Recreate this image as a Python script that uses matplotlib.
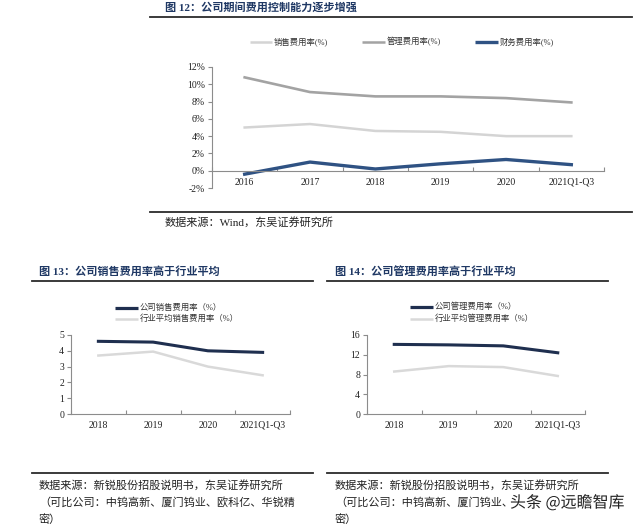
import matplotlib
matplotlib.use('Agg')
import matplotlib.pyplot as plt
from matplotlib.lines import Line2D
from matplotlib.ticker import FuncFormatter, FixedLocator
import matplotlib.patheffects as pe

plt.rcParams['font.family'] = ['Liberation Serif', 'Noto Sans CJK SC', 'DejaVu Sans']
CJK = ['Noto Sans CJK SC', 'DejaVu Sans']
MIX = ['Liberation Serif', 'Noto Sans CJK SC', 'DejaVu Sans']

# ---------------- data ----------------
years1 = ['2016', '2017', '2018', '2019', '2020', '2021Q1-Q3']
sales_rate1 = [5.0, 5.4, 4.6, 4.5, 4.0, 4.0]
admin_rate1 = [10.8, 9.1, 8.6, 8.6, 8.4, 7.9]
fin_rate1 = [-0.4, 1.0, 0.2, 0.8, 1.3, 0.7]
yticks1 = [-2, 0, 2, 4, 6, 8, 10, 12]

years2 = ['2018', '2019', '2020', '2021Q1-Q3']
co_sales = [4.6, 4.55, 4.0, 3.9]
ind_sales = [3.7, 3.95, 3.0, 2.45]
yticks2 = [0, 1, 2, 3, 4, 5]

co_admin = [14.1, 14.0, 13.8, 12.4]
ind_admin = [8.6, 9.7, 9.5, 7.7]
yticks3 = [0, 4, 8, 12, 16]

W, H = 640, 527
fig = plt.figure(figsize=(W / 100, H / 100), dpi=100)
fig.patch.set_facecolor('white')


def ax_px(l, t, r, b):
    return fig.add_axes([l / W, 1 - b / H, (r - l) / W, (b - t) / H])


def hline(x0, x1, y, lw=1.3, color='#2b2b2b'):
    fig.add_artist(Line2D([x0 / W, x1 / W], [1 - y / H, 1 - y / H],
                          transform=fig.transFigure, color=color, lw=lw))


def ftext(x, y, s, size=8, family=MIX, **kw):
    fig.text(x / W, 1 - y / H, s, va='center', ha='left', size=size,
             family=family, **kw)


def legend_item(x0, x1, y, color, lw, label, size=6):
    fig.add_artist(Line2D([x0 / W, x1 / W], [1 - y / H, 1 - y / H],
                          transform=fig.transFigure, color=color, lw=lw,
                          solid_capstyle='butt'))
    ftext(x1 + 2, y, label, size=size, color='#333333')


def style_axes(ax, n, yt, fmt=None, zero_spine=False):
    for s in ['top', 'right']:
        ax.spines[s].set_visible(False)
    for s in ['left', 'bottom']:
        ax.spines[s].set_color('#8c8c8c')
        ax.spines[s].set_linewidth(0.8)
    if zero_spine:
        ax.spines['bottom'].set_position(('data', 0))
    ax.set_xlim(-0.5, n - 0.5)
    ax.set_ylim(yt[0], yt[-1])
    ax.set_yticks(yt)
    if fmt:
        ax.yaxis.set_major_formatter(FuncFormatter(fmt))
    ax.tick_params(axis='y', direction='out', length=3, width=0.8,
                   color='#8c8c8c', labelsize=7, pad=2, labelcolor='#222222')
    ax.tick_params(axis='x', which='major', length=0, labelsize=7, pad=5,
                   labelcolor='#222222')
    ax.xaxis.set_minor_locator(FixedLocator([i + 0.5 for i in range(-1, n)]))
    ax.tick_params(axis='x', which='minor', direction='in', length=3,
                   width=0.8, color='#8c8c8c')
    ax.set_facecolor('none')


# ---------------- chart 12 ----------------
ftext(165, 7, '图 12：公司期间费用控制能力逐步增强', size=8,
      weight='bold', color='#1f3864')
hline(150, 632, 17)
legend_item(250, 272, 42, '#d4d4d4', 1.8, '销售费用率(%)')
legend_item(362, 385, 42, '#a3a3a3', 1.8, '管理费用率(%)')
legend_item(475, 498, 42, '#2f5283', 2.4, '财务费用率(%)')

ax1 = ax_px(212, 67, 604, 188)
x1 = list(range(len(years1)))
ax1.plot(x1, sales_rate1, color='#d4d4d4', lw=1.8)
ax1.plot(x1, admin_rate1, color='#a3a3a3', lw=1.9)
ax1.plot(x1, fin_rate1, color='#2f5283', lw=2.4)
style_axes(ax1, len(years1), yticks1, fmt=lambda v, p: f'{v:.0f}%',
           zero_spine=True)
ax1.set_xticks(x1)
ax1.set_xticklabels(years1)

hline(150, 632, 212)
ftext(165, 222, '数据来源：Wind，东吴证券研究所', size=8, color='#222222')

# ---------------- chart 13 ----------------
ftext(39, 271, '图 13：公司销售费用率高于行业平均', size=8,
      weight='bold', color='#1f3864')
hline(32, 313, 281)
legend_item(115, 138, 308, '#1f2f4f', 2.3, '公司销售费用率（%）')
legend_item(115, 138, 319, '#d9d9d9', 1.8, '行业平均销售费用率（%）')

ax2 = ax_px(71, 335, 290, 414)
x2 = list(range(len(years2)))
ax2.plot(x2, co_sales, color='#1f2f4f', lw=2.2)
ax2.plot(x2, ind_sales, color='#d9d9d9', lw=1.8)
style_axes(ax2, len(years2), yticks2)
ax2.set_xticks(x2)
ax2.set_xticklabels(years2)

hline(32, 313, 473)
ftext(39, 485, '数据来源：新锐股份招股说明书，东吴证券研究所', size=8, color='#222222')
ftext(39, 502, '（可比公司：中钨高新、厦门钨业、欧科亿、华锐精', size=8, color='#222222')
ftext(39, 519, '密）', size=8, color='#222222')

# ---------------- chart 14 ----------------
ftext(335, 271, '图 14：公司管理费用率高于行业平均', size=8,
      weight='bold', color='#1f3864')
hline(327, 608, 281)
legend_item(410, 433, 307, '#1f2f4f', 2.3, '公司管理费用率（%）')
legend_item(410, 433, 319, '#d9d9d9', 1.8, '行业平均管理费用率（%）')

ax3 = ax_px(367, 335, 585, 414)
ax3.plot(x2, co_admin, color='#1f2f4f', lw=2.2)
ax3.plot(x2, ind_admin, color='#d9d9d9', lw=1.8)
style_axes(ax3, len(years2), yticks3)
ax3.set_xticks(x2)
ax3.set_xticklabels(years2)

hline(327, 608, 473)
ftext(335, 485, '数据来源：新锐股份招股说明书，东吴证券研究所', size=8, color='#222222')
ftext(335, 502, '（可比公司：中钨高新、厦门钨业、', size=8, color='#222222')
ftext(335, 519, '密）', size=8, color='#222222')

# watermark
fig.text(510 / W, 1 - 503 / H, '头条 @远瞻智库', size=11.5, family=CJK,
         va='center', ha='left', color='#222222',
         path_effects=[pe.withStroke(linewidth=2.5, foreground='white')])

fig.savefig('out.png', dpi=100, facecolor='white')
